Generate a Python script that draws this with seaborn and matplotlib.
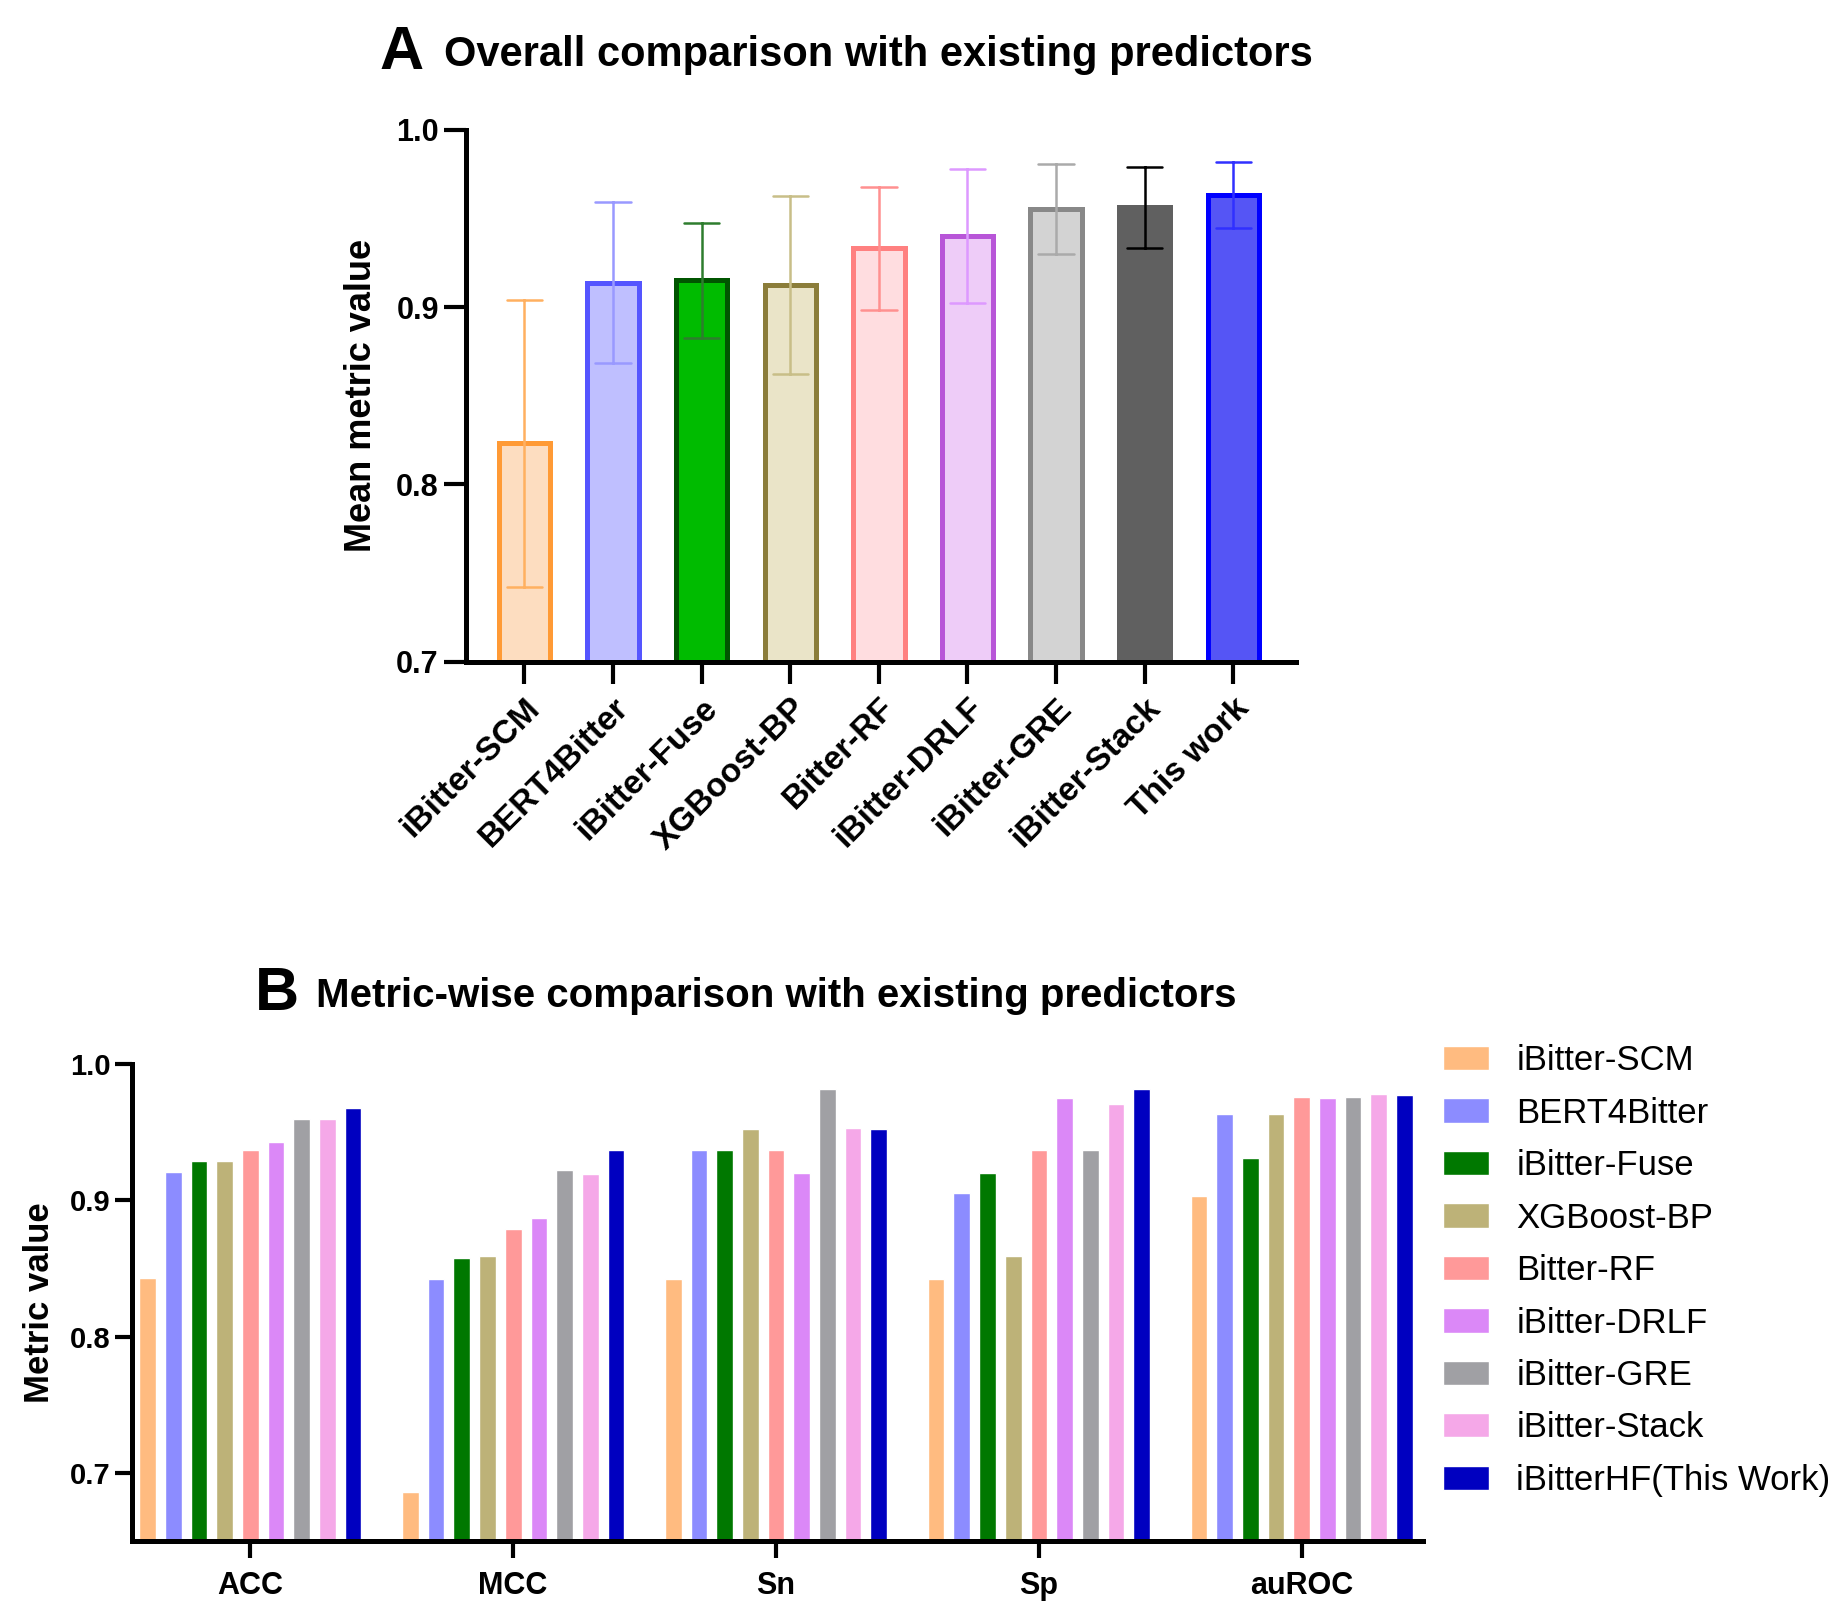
import numpy as np
import pandas as pd
import matplotlib
matplotlib.use("Agg")
import matplotlib.pyplot as plt
import seaborn as sns

# --- DATA ---
metrics = ['ACC', 'MCC', 'Sn', 'Sp', 'auROC']
models = ['iBitter-SCM', 'BERT4Bitter', 'iBitter-Fuse', 'XGBoost-BP', 'Bitter-RF',
          'iBitter-DRLF', 'iBitter-GRE', 'iBitter-Stack', 'iBitterHF(This Work)']
short_names = ['iBitter-SCM', 'BERT4Bitter', 'iBitter-Fuse', 'XGBoost-BP', 'Bitter-RF',
               'iBitter-DRLF', 'iBitter-GRE', 'iBitter-Stack', 'This work']

scm = [0.843, 0.686, 0.842, 0.842, 0.903]
bert = [0.921, 0.842, 0.937, 0.905, 0.963]
fuse = [0.929, 0.858, 0.937, 0.920, 0.931]
xgb = [0.929, 0.859, 0.952, 0.859, 0.963]
rf = [0.937, 0.879, 0.937, 0.937, 0.976]
drlf = [0.943, 0.887, 0.920, 0.975, 0.975]
gre = [0.960, 0.922, 0.982, 0.937, 0.976]
stack = [0.960, 0.919, 0.953, 0.971, 0.978]
hf = [0.968, 0.937, 0.952, 0.982, 0.977]

values = [scm, bert, fuse, xgb, rf, drlf, gre, stack, hf]

# --- COLOURS ---
fill_a = ['#FDDDC0', '#BFBFFF', '#00BB00', '#EAE4C8', '#FFDDE0',
          '#EECCF8', '#D3D3D3', '#606060', '#5555F5']
edge_a = ['#FF9A35', '#5555FF', '#005500', '#8B7D3A', '#FF8080',
          '#B855D8', '#888888', '#606060', '#0000FF']
err_a = ['#FFB060', '#9999FF', '#2E7D2E', '#C8BE88', '#FF9090',
         '#DD99FF', '#AAAAAA', '#000000', '#3030FF']
fill_b = ['#FFBB80', '#8C8CFF', '#007800', '#BDB278', '#FF9999',
          '#DB88F7', '#A0A0A4', '#F5A8E8', '#0000C0']

# long-form table
rows = []
for m, s, vals in zip(models, short_names, values):
    for met, v in zip(metrics, vals):
        rows.append({'Model': m, 'Short': s, 'Metric': met, 'Value': v})
df = pd.DataFrame(rows)

sns.set_style("ticks")
plt.rcParams['font.family'] = ['Liberation Sans', 'DejaVu Sans']
for key in ['text.color', 'axes.labelcolor', 'xtick.color', 'ytick.color', 'axes.edgecolor']:
    plt.rcParams[key] = 'black'

fig = plt.figure(figsize=(18.49, 16.22), dpi=100)

# --- Panel A: mean +/- SD over the five metrics ---
ax1 = fig.add_axes([0.252, 0.592, 0.449, 0.328])
sns.barplot(data=df, x='Short', y='Value', hue='Short', order=short_names,
            hue_order=short_names, palette=fill_a, saturation=1, errorbar='sd',
            capsize=0.4, width=0.58, err_kws={'linewidth': 1.8},
            legend=False, ax=ax1)
for patch, ec in zip(ax1.patches, edge_a):
    patch.set_edgecolor(ec)
    patch.set_linewidth(3.6)
for line, ec in zip(ax1.lines, err_a):
    line.set_color(ec)
    line.set_zorder(5)

ax1.set_ylim(0.7, 1.0)
ax1.set_xlim(-0.66, 8.71)
ax1.set_yticks([0.7, 0.8, 0.9, 1.0])
ax1.set_yticklabels(['0.7', '0.8', '0.9', '1.0'], fontsize=22, fontweight='bold')
ax1.set_xticks(range(len(short_names)))
ax1.set_xticklabels(short_names, rotation=45, ha='right', rotation_mode='anchor',
                    fontsize=24, fontweight='bold')
ax1.set_xlabel('')
ax1.set_ylabel('Mean metric value', fontsize=26, fontweight='bold', labelpad=12)
for sp in ['top', 'right']:
    ax1.spines[sp].set_visible(False)
for sp in ['left', 'bottom']:
    ax1.spines[sp].set_linewidth(3.6)
ax1.tick_params(axis='both', width=3.0, length=16)
ax1.tick_params(axis='x', pad=6)

fig.text(0.205, 0.967, 'A', fontsize=44, fontweight='bold', va='center')
fig.text(0.240, 0.966, 'Overall comparison with existing predictors',
         fontsize=30, fontweight='bold', va='center')

# --- Panel B: grouped bars per metric ---
ax2 = fig.add_axes([0.0714, 0.050, 0.698, 0.294])
sns.barplot(data=df, x='Metric', y='Value', hue='Model', order=metrics,
            hue_order=models, palette=fill_b, saturation=1, width=0.88, gap=0.35,
            errorbar=None, ax=ax2)
ax2.set_ylim(0.65, 1.0)
ax2.set_xlim(-0.45, 4.46)
ax2.set_yticks([0.7, 0.8, 0.9, 1.0])
ax2.set_yticklabels(['0.7', '0.8', '0.9', '1.0'], fontsize=21, fontweight='bold')
ax2.set_xticks(range(len(metrics)))
ax2.set_xticklabels(metrics, fontsize=22, fontweight='bold')
ax2.set_xlabel('')
ax2.set_ylabel('Metric value', fontsize=25, fontweight='bold', labelpad=10)
for sp in ['top', 'right']:
    ax2.spines[sp].set_visible(False)
for sp in ['left', 'bottom']:
    ax2.spines[sp].set_linewidth(3.6)
ax2.tick_params(axis='both', width=3.0, length=12)
ax2.tick_params(axis='x', pad=10)

handles, labels = ax2.get_legend_handles_labels()
ax2.legend(handles, labels, loc='upper left', bbox_to_anchor=(1.0, 1.085),
           frameon=False, fontsize=25, handlelength=1.3, handleheight=0.7,
           labelspacing=0.56, handletextpad=0.8, borderaxespad=0.2)

fig.text(0.138, 0.387, 'B', fontsize=44, fontweight='bold', va='center')
fig.text(0.171, 0.386, 'Metric-wise comparison with existing predictors',
         fontsize=29, fontweight='bold', va='center')

fig.savefig('out.png', dpi=100)
